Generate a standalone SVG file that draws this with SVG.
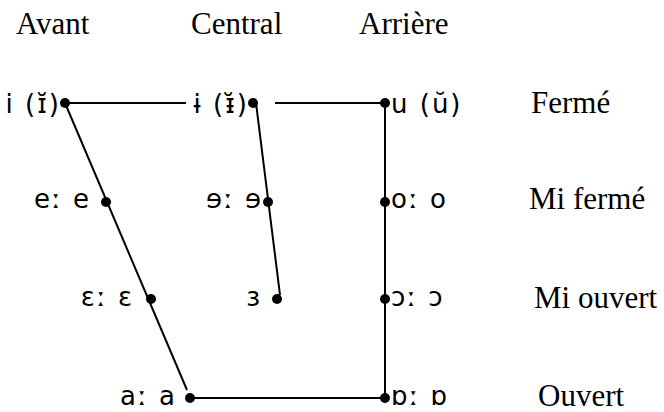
<svg xmlns="http://www.w3.org/2000/svg" width="664" height="412" viewBox="0 0 664 412">
<style>
.hdr{font-family:"Liberation Serif","Times New Roman",serif;font-size:31px;fill:#000}
.ipa{font-family:"DejaVu Sans","Liberation Sans",sans-serif;font-size:26px;fill:#000;letter-spacing:2px}
.l{text-anchor:end}
.dot{fill:#000}
.edge{stroke:#000;stroke-width:2;fill:none}
</style>
<rect width="664" height="412" fill="#fff"/>
<g id="headers">
<text class="hdr" x="16" y="34">Avant</text>
<text class="hdr" x="191" y="34">Central</text>
<text class="hdr" x="359" y="34">Arrière</text>
<text class="hdr" x="531" y="113">Fermé</text>
<text class="hdr" x="529" y="209">Mi fermé</text>
<text class="hdr" x="534" y="308">Mi ouvert</text>
<text class="hdr" x="538" y="406">Ouvert</text>
</g>
<g id="connectors">
<line class="edge" x1="65" y1="103" x2="186" y2="103"/>
<line class="edge" x1="275" y1="103" x2="385" y2="103"/>
<line class="edge" x1="65" y1="103" x2="187" y2="390"/>
<line class="edge" x1="256" y1="103" x2="280" y2="295"/>
<line class="edge" x1="385" y1="103" x2="385" y2="398"/>
<line class="edge" x1="190" y1="398" x2="385" y2="398"/>
</g>
<g id="v-i"><circle class="dot" cx="65" cy="103" r="5"/><text class="ipa l" x="61" y="113">i (ɪ̆)</text></g>
<g id="v-barred-i"><circle class="dot" cx="253" cy="103" r="5"/><text class="ipa l" x="249" y="113">ɨ (ᵻ̆)</text></g>
<g id="v-u"><circle class="dot" cx="385" cy="103" r="5"/><text class="ipa" x="391" y="113">u (ŭ)</text></g>
<g id="v-e"><circle class="dot" cx="106" cy="202" r="5"/><text class="ipa l" x="91" y="208">eː e</text></g>
<g id="v-schwa-r"><circle class="dot" cx="268" cy="202" r="5"/><text class="ipa l" x="263" y="208">ɘː ɘ</text></g>
<g id="v-o"><circle class="dot" cx="385" cy="202" r="5"/><text class="ipa" x="391" y="208">oː o</text></g>
<g id="v-epsilon"><circle class="dot" cx="151" cy="299" r="5"/><text class="ipa l" x="134" y="306">ɛː ɛ</text></g>
<g id="v-rev-epsilon"><circle class="dot" cx="277" cy="299" r="5"/><text class="ipa l" x="262" y="306">ɜ</text></g>
<g id="v-open-o"><circle class="dot" cx="385" cy="299" r="5"/><text class="ipa" x="391" y="306">ɔː ɔ</text></g>
<g id="v-a"><circle class="dot" cx="190" cy="398" r="5"/><text class="ipa l" x="177" y="405">aː a</text></g>
<g id="v-turned-alpha"><circle class="dot" cx="385" cy="398" r="5"/><text class="ipa" x="391" y="405">ɒː ɒ</text></g>
</svg>
